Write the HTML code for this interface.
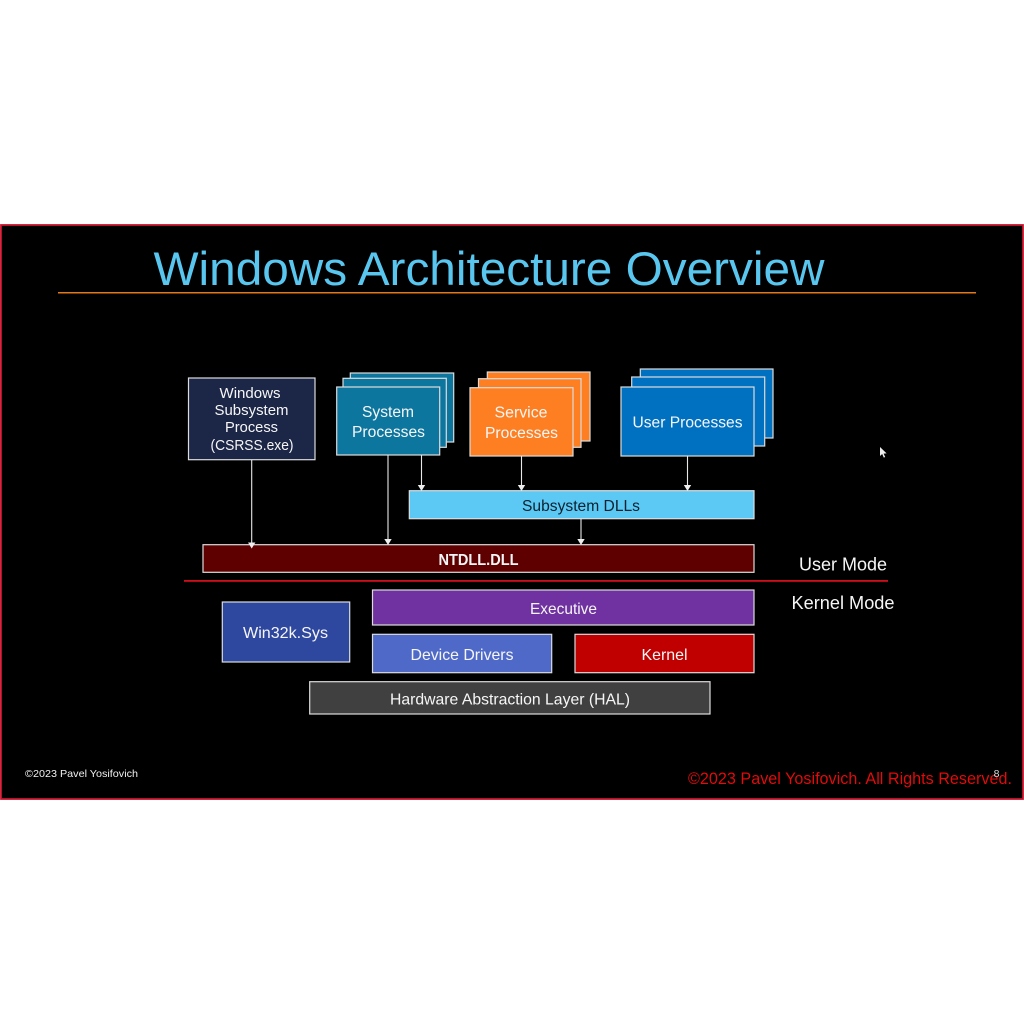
<!DOCTYPE html>
<html><head><meta charset="utf-8"><style>
html,body{margin:0;padding:0;background:#fff;width:1024px;height:1024px;overflow:hidden}
svg{display:block}
text{font-family:"Liberation Sans",sans-serif;text-anchor:middle}
.w{fill:#f6f6f6}
.b{stroke:#dcdcdc;stroke-width:1.2}
.a{stroke:#e8e8e8;stroke-width:1.1;fill:none}
.h{fill:#eee}
</style></head><body>
<svg width="1024" height="1024" viewBox="0 0 1024 1024" xmlns="http://www.w3.org/2000/svg">
<rect width="1024" height="1024" fill="#fff"/>
<rect x="1" y="225" width="1022" height="574" fill="#000" stroke="#c8142e" stroke-width="1.8"/>
<g filter="url(#s)">
<text x="489" y="285" font-size="47" fill="#58c6ee" textLength="671" lengthAdjust="spacingAndGlyphs">Windows Architecture Overview</text>
<rect x="58" y="292" width="918" height="1.5" fill="#e0781f"/>

<rect class="b" x="188.5" y="378" width="126.5" height="81.7" fill="#1f2747"/>
<text class="w" x="250" y="398" font-size="14.5" textLength="61" lengthAdjust="spacingAndGlyphs">Windows</text>
<text class="w" x="251.5" y="415" font-size="14.5" textLength="74" lengthAdjust="spacingAndGlyphs">Subsystem</text>
<text class="w" x="251.5" y="432" font-size="14.5" textLength="53" lengthAdjust="spacingAndGlyphs">Process</text>
<text class="w" x="252" y="450" font-size="14.5" textLength="83" lengthAdjust="spacingAndGlyphs">(CSRSS.exe)</text>

<rect class="b" x="350.3" y="373" width="103.4" height="69" fill="#0f769f"/>
<rect class="b" x="343" y="378.3" width="103.3" height="69" fill="#0f769f"/>
<rect class="b" x="336.7" y="387" width="103" height="68" fill="#0f769f"/>
<text class="w" x="388" y="417" font-size="15.5" textLength="52" lengthAdjust="spacingAndGlyphs">System</text>
<text class="w" x="388.5" y="437" font-size="15.5" textLength="73" lengthAdjust="spacingAndGlyphs">Processes</text>

<rect class="b" x="487.3" y="372" width="102.7" height="69" fill="#fd7f23"/>
<rect class="b" x="478.5" y="378.7" width="102.5" height="68.6" fill="#fd7f23"/>
<rect class="b" x="470" y="387.7" width="103" height="68.3" fill="#fd7f23"/>
<text class="w" x="521" y="417.5" font-size="15.5" textLength="53" lengthAdjust="spacingAndGlyphs">Service</text>
<text class="w" x="521.5" y="438" font-size="15.5" textLength="73" lengthAdjust="spacingAndGlyphs">Processes</text>

<rect class="b" x="640.3" y="369" width="132.7" height="69" fill="#0470c0"/>
<rect class="b" x="631.7" y="377" width="133" height="69" fill="#0470c0"/>
<rect class="b" x="621" y="387" width="133" height="69" fill="#0470c0"/>
<text class="w" x="687.5" y="427.5" font-size="15.5" textLength="110" lengthAdjust="spacingAndGlyphs">User Processes</text>

<rect class="b" x="409.3" y="490.7" width="344.7" height="28" fill="#5cc9f5"/>
<text x="581" y="511" font-size="15.5" fill="#07202f" textLength="118" lengthAdjust="spacingAndGlyphs">Subsystem DLLs</text>

<rect class="b" x="203" y="544.7" width="551" height="27.6" fill="#5f0000"/>
<text class="w" x="478.5" y="565" font-size="15.5" font-weight="bold" textLength="80" lengthAdjust="spacingAndGlyphs">NTDLL.DLL</text>

<rect x="184" y="580" width="704" height="1.8" fill="#d0101a"/>
<text class="w" x="843" y="570.5" font-size="18" textLength="88" lengthAdjust="spacingAndGlyphs">User Mode</text>
<text class="w" x="843" y="609" font-size="18" textLength="103" lengthAdjust="spacingAndGlyphs">Kernel Mode</text>

<rect class="b" x="372.5" y="590" width="381.5" height="35" fill="#7030a0"/>
<text class="w" x="563.5" y="614" font-size="16" textLength="67" lengthAdjust="spacingAndGlyphs">Executive</text>

<rect class="b" x="222.3" y="602" width="127.4" height="60" fill="#2f479f"/>
<text class="w" x="285.5" y="638" font-size="16" textLength="85" lengthAdjust="spacingAndGlyphs">Win32k.Sys</text>

<rect class="b" x="372.5" y="634.3" width="179.2" height="38.4" fill="#4f69c9"/>
<text class="w" x="462" y="660" font-size="16" textLength="103" lengthAdjust="spacingAndGlyphs">Device Drivers</text>

<rect class="b" x="575" y="634.3" width="179" height="38.4" fill="#c00000"/>
<text class="w" x="664.5" y="660" font-size="16" textLength="46" lengthAdjust="spacingAndGlyphs">Kernel</text>

<rect class="b" x="309.7" y="681.7" width="400.3" height="32.3" fill="#414141"/>
<text class="w" x="510" y="704.5" font-size="16" textLength="240" lengthAdjust="spacingAndGlyphs">Hardware Abstraction Layer (HAL)</text>

<path class="a" d="M251.7 460V544M388 455V540M421.5 455V486M521.5 456V486M687.5 456V486M581 519V540"/>
<path class="h" d="M248 542.5h7.4l-3.7 6zM384.3 539h7.4l-3.7 6zM417.8 485h7.4l-3.7 6zM517.8 485h7.4l-3.7 6zM683.8 485h7.4l-3.7 6zM577.3 539h7.4l-3.7 6z"/>

<text x="81.5" y="777" font-size="10.5" fill="#f0f0f0" textLength="113" lengthAdjust="spacingAndGlyphs">©2023 Pavel Yosifovich</text>
<text x="850" y="784" font-size="17" fill="#e00808" textLength="324" lengthAdjust="spacingAndGlyphs">©2023 Pavel Yosifovich. All Rights Reserved.</text>
<text x="996.5" y="777" font-size="10.5" fill="#d8d8d8">8</text>
<path d="M880 447l0 9 2.2-2 1.6 3.6 1.4-.6-1.6-3.4 3-.2z" fill="#eee"/>
</g>
<defs><filter id="s" x="0" y="0" width="100%" height="100%"><feGaussianBlur stdDeviation="0.3"/></filter></defs>
</svg>
</body></html>
